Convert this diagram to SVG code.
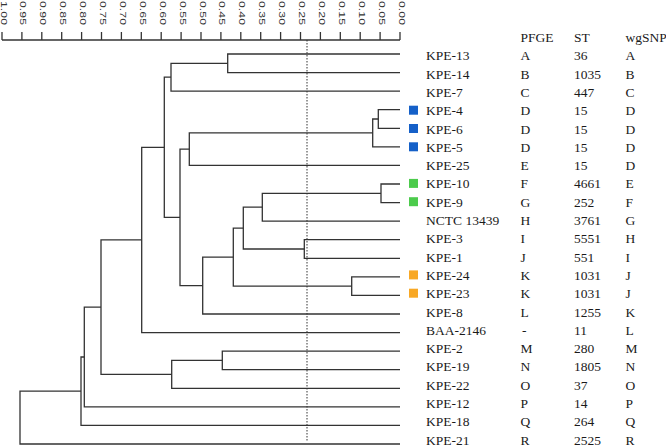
<svg xmlns="http://www.w3.org/2000/svg" width="666" height="448" viewBox="0 0 666 448">
<style>
.t{font-family:"Liberation Serif","Times New Roman",serif;font-size:13.5px;fill:#1a1a1a}
.ax{font-family:"Liberation Sans",Arial,sans-serif;font-size:9.5px;fill:#333}
.ln{fill:none;stroke:#333;stroke-width:1.3}
.tk{stroke:#333;stroke-width:1.3}
.b{fill:#1560c8}.g{fill:#4ccb4c}.o{fill:#f8a825}
</style>
<rect width="666" height="448" fill="#fff"/>
<g id="axis">
<path class="ln" d="M2,40 H400"/>
<g class="tk">
<line x1="2" y1="32" x2="2" y2="40"/><line x1="21.9" y1="32" x2="21.9" y2="40"/><line x1="41.8" y1="32" x2="41.8" y2="40"/><line x1="61.7" y1="32" x2="61.7" y2="40"/><line x1="81.6" y1="32" x2="81.6" y2="40"/><line x1="101.5" y1="32" x2="101.5" y2="40"/><line x1="121.4" y1="32" x2="121.4" y2="40"/><line x1="141.3" y1="32" x2="141.3" y2="40"/><line x1="161.2" y1="32" x2="161.2" y2="40"/><line x1="181.1" y1="32" x2="181.1" y2="40"/><line x1="201" y1="32" x2="201" y2="40"/><line x1="220.9" y1="32" x2="220.9" y2="40"/><line x1="240.8" y1="32" x2="240.8" y2="40"/><line x1="260.7" y1="32" x2="260.7" y2="40"/><line x1="280.6" y1="32" x2="280.6" y2="40"/><line x1="300.5" y1="32" x2="300.5" y2="40"/><line x1="320.4" y1="32" x2="320.4" y2="40"/><line x1="340.3" y1="32" x2="340.3" y2="40"/><line x1="360.2" y1="32" x2="360.2" y2="40"/><line x1="380.1" y1="32" x2="380.1" y2="40"/><line x1="400" y1="32" x2="400" y2="40"/>
</g>
<g class="ax">
<text transform="translate(2,1) rotate(90)" y="1.5" textLength="24" lengthAdjust="spacingAndGlyphs">1.00</text>
<text transform="translate(21.9,1) rotate(90)" y="1.5" textLength="24" lengthAdjust="spacingAndGlyphs">0.95</text>
<text transform="translate(41.8,1) rotate(90)" y="1.5" textLength="24" lengthAdjust="spacingAndGlyphs">0.90</text>
<text transform="translate(61.7,1) rotate(90)" y="1.5" textLength="24" lengthAdjust="spacingAndGlyphs">0.85</text>
<text transform="translate(81.6,1) rotate(90)" y="1.5" textLength="24" lengthAdjust="spacingAndGlyphs">0.80</text>
<text transform="translate(101.5,1) rotate(90)" y="1.5" textLength="24" lengthAdjust="spacingAndGlyphs">0.75</text>
<text transform="translate(121.4,1) rotate(90)" y="1.5" textLength="24" lengthAdjust="spacingAndGlyphs">0.70</text>
<text transform="translate(141.3,1) rotate(90)" y="1.5" textLength="24" lengthAdjust="spacingAndGlyphs">0.65</text>
<text transform="translate(161.2,1) rotate(90)" y="1.5" textLength="24" lengthAdjust="spacingAndGlyphs">0.60</text>
<text transform="translate(181.1,1) rotate(90)" y="1.5" textLength="24" lengthAdjust="spacingAndGlyphs">0.55</text>
<text transform="translate(201,1) rotate(90)" y="1.5" textLength="24" lengthAdjust="spacingAndGlyphs">0.50</text>
<text transform="translate(220.9,1) rotate(90)" y="1.5" textLength="24" lengthAdjust="spacingAndGlyphs">0.45</text>
<text transform="translate(240.8,1) rotate(90)" y="1.5" textLength="24" lengthAdjust="spacingAndGlyphs">0.40</text>
<text transform="translate(260.7,1) rotate(90)" y="1.5" textLength="24" lengthAdjust="spacingAndGlyphs">0.35</text>
<text transform="translate(280.6,1) rotate(90)" y="1.5" textLength="24" lengthAdjust="spacingAndGlyphs">0.30</text>
<text transform="translate(300.5,1) rotate(90)" y="1.5" textLength="24" lengthAdjust="spacingAndGlyphs">0.25</text>
<text transform="translate(320.4,1) rotate(90)" y="1.5" textLength="24" lengthAdjust="spacingAndGlyphs">0.20</text>
<text transform="translate(340.3,1) rotate(90)" y="1.5" textLength="24" lengthAdjust="spacingAndGlyphs">0.15</text>
<text transform="translate(360.2,1) rotate(90)" y="1.5" textLength="24" lengthAdjust="spacingAndGlyphs">0.10</text>
<text transform="translate(380.1,1) rotate(90)" y="1.5" textLength="24" lengthAdjust="spacingAndGlyphs">0.05</text>
<text transform="translate(400,1) rotate(90)" y="1.5" textLength="24" lengthAdjust="spacingAndGlyphs">0.00</text>
</g>
</g>
<g id="cutoff">
<line x1="307" y1="40" x2="307" y2="442" stroke="#333" stroke-width="1" stroke-dasharray="1.5,1.5"/>
</g>
<g id="connectors" class="ln">
<path d="M400,54 H227.7 V72.6 H400"/>
<path d="M227.7,63.3 H171 V91.1 H400"/>
<path d="M400,109.7 H378.3 V128.3 H400"/>
<path d="M378.3,119 H372.7 V146.9 H400"/>
<path d="M372.7,132.9 H189.3 V165.4 H400"/>
<path d="M400,184 H381 V202.6 H400"/>
<path d="M381,193.3 H262.3 V221.1 H400"/>
<path d="M400,239.7 H304.3 V258.3 H400"/>
<path d="M262.3,207.2 H243.3 V249 H304.3"/>
<path d="M400,276.9 H351.7 V295.4 H400"/>
<path d="M243.3,228.1 H233.3 V286.1 H351.7"/>
<path d="M233.3,257.1 H202.7 V314 H400"/>
<path d="M189.3,149.2 H180 V285.6 H202.7"/>
<path d="M171,77.2 H164.3 V217.4 H180"/>
<path d="M164.3,147.3 H141.7 V332.6 H400"/>
<path d="M400,351.1 H222.3 V369.7 H400"/>
<path d="M222.3,360.4 H171.7 V388.3 H400"/>
<path d="M171.7,374.4 H101 V239.9 H141.7"/>
<path d="M101,307.1 H84.3 V406.9 H400"/>
<path d="M84.3,357 H81 V425.4 H400"/>
<path d="M81,391.2 H20 V444 H400"/>
</g>
<g id="header" class="t">
<text x="520.5" y="42">PFGE</text><text x="574" y="42">ST</text><text x="625.5" y="42">wgSNP</text>
</g>
<g id="leaf-KPE-13" class="t"><text x="426" y="60.3">KPE-13</text><text x="520.5" y="60.3">A</text><text x="574" y="60.3">36</text><text x="625.5" y="60.3">A</text></g>
<g id="leaf-KPE-14" class="t"><text x="426" y="78.6">KPE-14</text><text x="520.5" y="78.6">B</text><text x="574" y="78.6">1035</text><text x="625.5" y="78.6">B</text></g>
<g id="leaf-KPE-7" class="t"><text x="426" y="96.9">KPE-7</text><text x="520.5" y="96.9">C</text><text x="574" y="96.9">447</text><text x="625.5" y="96.9">C</text></g>
<g id="leaf-KPE-4" class="t"><rect class="b" x="409" y="105.7" width="9" height="9"/><text x="426" y="115.2">KPE-4</text><text x="520.5" y="115.2">D</text><text x="574" y="115.2">15</text><text x="625.5" y="115.2">D</text></g>
<g id="leaf-KPE-6" class="t"><rect class="b" x="409" y="124" width="9" height="9"/><text x="426" y="133.5">KPE-6</text><text x="520.5" y="133.5">D</text><text x="574" y="133.5">15</text><text x="625.5" y="133.5">D</text></g>
<g id="leaf-KPE-5" class="t"><rect class="b" x="409" y="142.3" width="9" height="9"/><text x="426" y="151.8">KPE-5</text><text x="520.5" y="151.8">D</text><text x="574" y="151.8">15</text><text x="625.5" y="151.8">D</text></g>
<g id="leaf-KPE-25" class="t"><text x="426" y="170.1">KPE-25</text><text x="520.5" y="170.1">E</text><text x="574" y="170.1">15</text><text x="625.5" y="170.1">D</text></g>
<g id="leaf-KPE-10" class="t"><rect class="g" x="409" y="178.9" width="9" height="9"/><text x="426" y="188.4">KPE-10</text><text x="520.5" y="188.4">F</text><text x="574" y="188.4">4661</text><text x="625.5" y="188.4">E</text></g>
<g id="leaf-KPE-9" class="t"><rect class="g" x="409" y="197.2" width="9" height="9"/><text x="426" y="206.7">KPE-9</text><text x="520.5" y="206.7">G</text><text x="574" y="206.7">252</text><text x="625.5" y="206.7">F</text></g>
<g id="leaf-NCTC-13439" class="t"><text x="426" y="225">NCTC 13439</text><text x="520.5" y="225">H</text><text x="574" y="225">3761</text><text x="625.5" y="225">G</text></g>
<g id="leaf-KPE-3" class="t"><text x="426" y="243.3">KPE-3</text><text x="520.5" y="243.3">I</text><text x="574" y="243.3">5551</text><text x="625.5" y="243.3">H</text></g>
<g id="leaf-KPE-1" class="t"><text x="426" y="261.6">KPE-1</text><text x="520.5" y="261.6">J</text><text x="574" y="261.6">551</text><text x="625.5" y="261.6">I</text></g>
<g id="leaf-KPE-24" class="t"><rect class="o" x="409" y="270.4" width="9" height="9"/><text x="426" y="279.9">KPE-24</text><text x="520.5" y="279.9">K</text><text x="574" y="279.9">1031</text><text x="625.5" y="279.9">J</text></g>
<g id="leaf-KPE-23" class="t"><rect class="o" x="409" y="288.7" width="9" height="9"/><text x="426" y="298.2">KPE-23</text><text x="520.5" y="298.2">K</text><text x="574" y="298.2">1031</text><text x="625.5" y="298.2">J</text></g>
<g id="leaf-KPE-8" class="t"><text x="426" y="316.5">KPE-8</text><text x="520.5" y="316.5">L</text><text x="574" y="316.5">1255</text><text x="625.5" y="316.5">K</text></g>
<g id="leaf-BAA-2146" class="t"><text x="426" y="334.8">BAA-2146</text><text x="522" y="334.8">-</text><text x="574" y="334.8">11</text><text x="625.5" y="334.8">L</text></g>
<g id="leaf-KPE-2" class="t"><text x="426" y="353.1">KPE-2</text><text x="520.5" y="353.1">M</text><text x="574" y="353.1">280</text><text x="625.5" y="353.1">M</text></g>
<g id="leaf-KPE-19" class="t"><text x="426" y="371.4">KPE-19</text><text x="520.5" y="371.4">N</text><text x="574" y="371.4">1805</text><text x="625.5" y="371.4">N</text></g>
<g id="leaf-KPE-22" class="t"><text x="426" y="389.7">KPE-22</text><text x="520.5" y="389.7">O</text><text x="574" y="389.7">37</text><text x="625.5" y="389.7">O</text></g>
<g id="leaf-KPE-12" class="t"><text x="426" y="408">KPE-12</text><text x="520.5" y="408">P</text><text x="574" y="408">14</text><text x="625.5" y="408">P</text></g>
<g id="leaf-KPE-18" class="t"><text x="426" y="426.3">KPE-18</text><text x="520.5" y="426.3">Q</text><text x="574" y="426.3">264</text><text x="625.5" y="426.3">Q</text></g>
<g id="leaf-KPE-21" class="t"><text x="426" y="444.6">KPE-21</text><text x="520.5" y="444.6">R</text><text x="574" y="444.6">2525</text><text x="625.5" y="444.6">R</text></g>
</svg>
